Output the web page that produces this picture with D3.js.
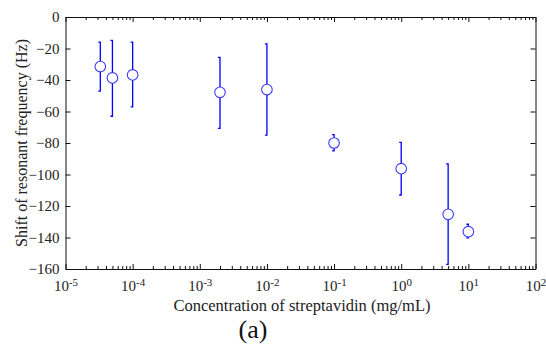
<!DOCTYPE html>
<html>
<head>
<meta charset="utf-8">
<script src="https://cdn.jsdelivr.net/npm/d3@7"></script>
<style>
  body { margin: 0; background: #fff; }
  svg { display: block; }
  svg text { font-family: "Liberation Serif", "Times New Roman", Times, serif; }
</style>
</head>
<body>
<svg id="chart"></svg>
<script>
// Shift of resonant frequency vs. streptavidin concentration
const concentration = [3.3e-5, 5e-5, 1e-4, 2e-3, 1e-2, 0.1, 1, 5, 10];
const shift = [-31.5, -38.7, -36.8, -47.8, -46.1, -80, -96.3, -125.3, -136.3];
const errTop = [-16, -14.8, -16, -25.6, -17, -74.7, -79.6, -93.3, -131.6];
const errBottom = [-47, -63, -57, -70.7, -75, -85, -113, -157, -140.3];
const xTicks = [1e-5, 1e-4, 1e-3, 1e-2, 1e-1, 1, 10, 100];
const yTicks = [0, -20, -40, -60, -80, -100, -120, -140, -160];

const W = 546, H = 344;
const margin = { top: 17, right: 10.5, bottom: 75, left: 65.5 },
    width = W - margin.left - margin.right,
    height = H - margin.top - margin.bottom;

const svg = d3.select("#chart")
    .attr("width", W)
    .attr("height", H);

const g = svg.append("g")
    .attr("transform", `translate(${margin.left},${margin.top})`);

const x = d3.scaleLog().domain([1e-5, 1e2]).range([0, width]);
const y = d3.scaleLinear().domain([-160, 0]).range([height, 0]);

const minor = [];
for (let e = -5; e < 2; e++) {
    for (let m = 2; m <= 9; m++) minor.push(m * Math.pow(10, e));
}

function supLabel(sel) {
    sel.selectAll(".tick text").each(function (d) {
        const t = d3.select(this).text(null);
        const ex = Math.round(Math.log10(d));
        t.append("tspan").text("10");
        t.append("tspan").attr("dy", "-0.45em").style("font-size", "11px").text(ex);
    });
}

// bottom axis
g.append("g")
    .attr("transform", `translate(0,${height})`)
    .call(d3.axisBottom(x).tickValues(minor).tickSize(-3).tickSizeOuter(0).tickFormat(""));
g.append("g")
    .attr("class", "xmajor")
    .attr("transform", `translate(0,${height})`)
    .call(d3.axisBottom(x).tickValues(xTicks).tickSize(-5).tickSizeOuter(0).tickPadding(11))
    .call(supLabel);

// top axis
g.append("g")
    .call(d3.axisTop(x).tickValues(minor).tickSize(-3).tickSizeOuter(0).tickFormat(""));
g.append("g")
    .call(d3.axisTop(x).tickValues(xTicks).tickSize(-5).tickSizeOuter(0).tickFormat(""));

// left / right axes
g.append("g")
    .attr("class", "yaxis")
    .call(d3.axisLeft(y).tickValues(yTicks).tickSize(-5).tickSizeOuter(0).tickPadding(6));
g.append("g")
    .attr("transform", `translate(${width},0)`)
    .call(d3.axisRight(y).tickValues(yTicks).tickSize(-5).tickSizeOuter(0).tickFormat(""));

g.selectAll("g").attr("font-family", null);
g.selectAll(".tick text")
    .attr("font-family", "Liberation Serif")
    .style("font-size", "15px")
    .attr("fill", "#222");
g.selectAll(".domain, .tick line").attr("stroke", "#111");

// error bars
const pts = concentration.map((c, i) => ({ c: c, v: shift[i], hi: errTop[i], lo: errBottom[i] }));

g.selectAll(".err")
    .data(pts)
    .enter().append("path")
    .attr("class", "err")
    .attr("fill", "none")
    .attr("stroke", "#0000ff")
    .attr("stroke-width", 1.3)
    .attr("d", d => {
        const cx = x(d.c);
        return `M${cx - 2},${y(d.hi)}H${cx}V${y(d.lo)}H${cx - 2}`;
    });

g.selectAll(".dot")
    .data(pts)
    .enter().append("circle")
    .attr("class", "dot")
    .attr("cx", d => x(d.c))
    .attr("cy", d => y(d.v))
    .attr("r", 5.3)
    .attr("fill", "#fff")
    .attr("stroke", "#3a3aff")
    .attr("stroke-width", 1.1);

// labels
svg.append("text")
    .attr("x", 302)
    .attr("y", 311)
    .attr("text-anchor", "middle")
    .style("font-size", "16.5px")
    .attr("fill", "#222")
    .text("Concentration of streptavidin (mg/mL)");

svg.append("text")
    .attr("transform", `translate(27,${margin.top + height / 2}) rotate(-90)`)
    .attr("text-anchor", "middle")
    .style("font-size", "16px")
    .attr("fill", "#222")
    .text("Shift of resonant frequency (Hz)");

svg.append("text")
    .attr("x", 253)
    .attr("y", 338)
    .attr("text-anchor", "middle")
    .style("font-size", "26px")
    .attr("fill", "#111")
    .text("(a)");
</script>
</body>
</html>
